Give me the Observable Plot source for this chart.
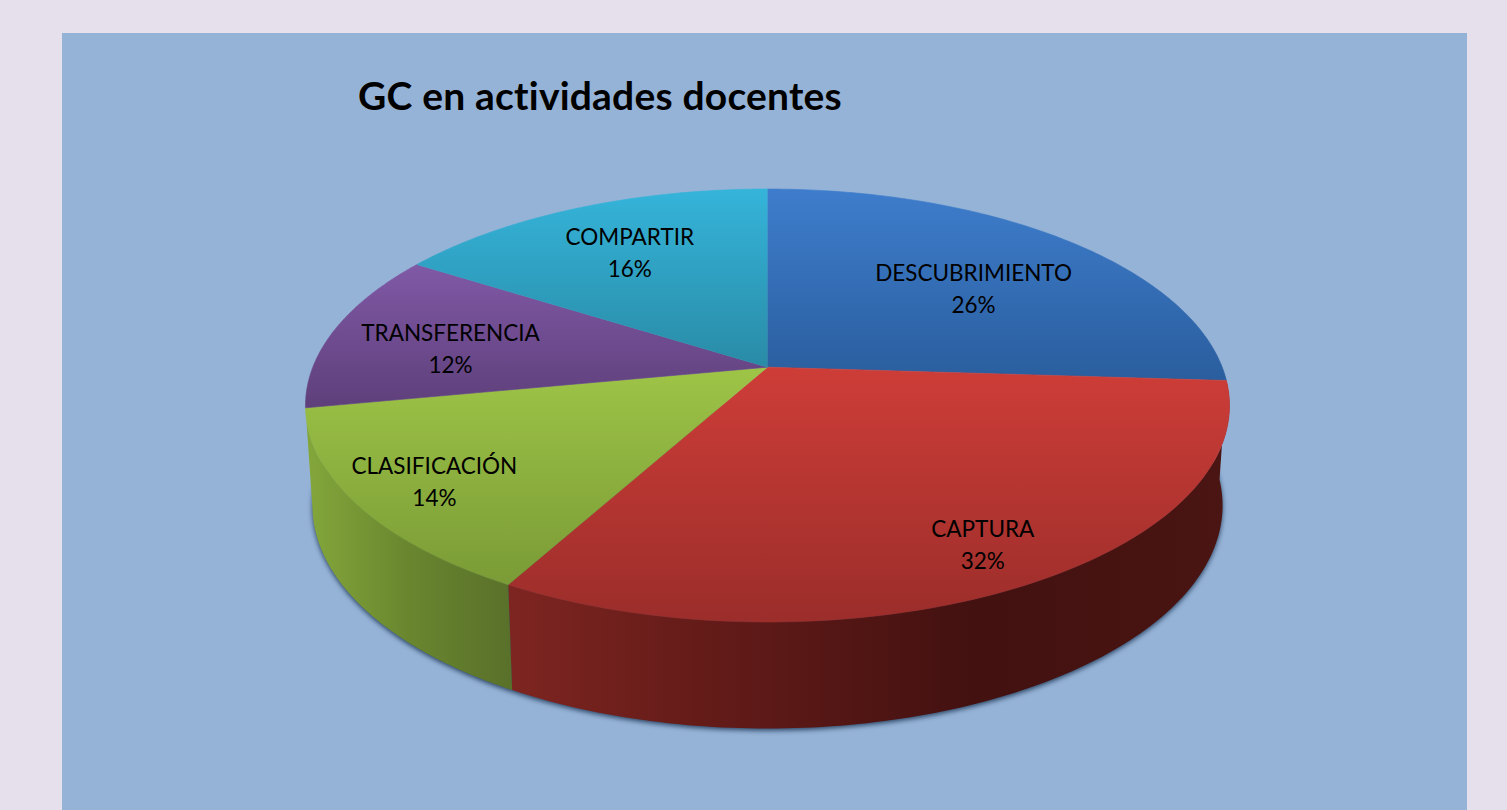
<!DOCTYPE html>
<html lang="es">
<head>
<meta charset="utf-8">
<script src="https://cdn.jsdelivr.net/npm/d3@7"></script>
<script src="https://cdn.jsdelivr.net/npm/@observablehq/plot@0.6"></script>
<style>
  html, body { margin: 0; height: 100%; overflow: hidden; background: #E6E0EC; }
  #panel { position: absolute; left: 62px; top: 33px; width: 1405px; height: 777px; background: #95B3D7; }
  #title { position: absolute; left: 296px; top: 38px; margin: 0; font: 700 39px/48px Lato, sans-serif; font-variant-ligatures: none; letter-spacing: 0.2px; color: #000; white-space: nowrap; }
  #panel svg { position: absolute; left: 0; top: 0; background: transparent; }
</style>
</head>
<body>
<div id="panel"><h1 id="title">GC en actividades docentes</h1><div id="chart"></div></div>
<script>
// Data
const categories = ["DESCUBRIMIENTO", "CAPTURA", "CLASIFICACIÓN", "TRANSFERENCIA", "COMPARTIR"];
const values = [26, 32, 14, 12, 16];
// Label anchors, in pie radii around the centre of the drawn ellipse
const labelX = [0.446, 0.466, -0.721, -0.686, -0.298];
const labelY = [-0.55, 0.633, 0.342, -0.273, -0.715];
// Colours
const topColors = [["#3E7DCC", "#2A5E9E"], ["#CE3D38", "#9B2D2A"], ["#9EC447", "#7A9B36"], ["#8059A6", "#5E3F7A"], ["#35B4DA", "#298BA6"]];
const sideStops = {
  1: [[0, "#7E2521"], [0.25, "#661C19"], [0.65, "#421110"], [1, "#4A1512"]],
  2: [[0, "#84A73B"], [0.5, "#69862F"], [1, "#59702A"]]
};

// Perspective of the tilted disc: eccentricity of the projected centre
const e = 0.177;
const tilt = Math.sqrt(1 - e * e);
const project = (a) => {
  const t = -Math.cos(a), d = 1 - e * t;
  return { x: tilt * Math.sin(a) / d, y: (t - e) / d };
};
const depth = { sx: 0.985, sy: 1.03, dy: 0.462 };
const lower = (p) => ({ x: p.x * depth.sx, y: p.y * depth.sy + depth.dy });

const total = d3.sum(values);
const cum = d3.cumsum(values);
const angle = (v) => (v / total) * 2 * Math.PI;
const arc = (a0, a1) => d3.range(0, 121).map((i) => project(a0 + (a1 - a0) * (i / 120)));

// The true centre of the disc under the projection
const hub = { x: 0, y: -e };
const slices = values.map((v, i) => {
  const rim = arc(angle(cum[i] - v), angle(cum[i]));
  return { i, rim, wedge: [hub, ...rim] };
});

const defs = () => {
  const d = d3.create("svg:defs");
  topColors.forEach((c, i) => {
    const g = d.append("linearGradient").attr("id", `top${i}`).attr("x1", 0).attr("y1", 0).attr("x2", 0).attr("y2", 1);
    g.append("stop").attr("offset", 0).attr("stop-color", c[0]);
    g.append("stop").attr("offset", 1).attr("stop-color", c[1]);
  });
  Object.entries(sideStops).forEach(([i, stops]) => {
    const g = d.append("linearGradient").attr("id", `side${i}`);
    stops.forEach(([o, c]) => g.append("stop").attr("offset", o).attr("stop-color", c));
  });
  return d.node();
};

const line = (data, fill, extra = {}) => Plot.line(data, { x: "x", y: "y", fill, stroke: "none", ...extra });

const front = [1, 2];
const shadowRim = arc(angle(cum[0]) * 0.75, angle(cum[2]) + 0.45).map(lower);

const plot = Plot.plot({
  width: 1405, height: 777,
  margin: 0,
  x: { domain: [-1, 1], range: [243, 1167], axis: null },
  y: { domain: [-1, 1], range: [155.5, 588.5], axis: null },
  style: { background: "transparent", overflow: "visible" },
  marks: [
    defs,
    line(shadowRim, "#2B4463", { dy: 2, imageFilter: "blur(2.5px)" }),
    ...front.map((i) => {
      const s = slices[i];
      return line([...s.rim, ...s.rim.map(lower).reverse()], `url(#side${i})`);
    }),
    ...slices.map((s) => line(s.wedge, `url(#top${s.i})`, { stroke: `url(#top${s.i})`, strokeWidth: 0.6 })),
    Plot.text(categories.map((c, i) => ({ label: `${c}\n${values[i]}%`, x: labelX[i], y: labelY[i] })), {
      x: "x", y: "y", text: "label",
      fontFamily: "Lato, sans-serif", fontSize: 22.5, lineHeight: 1.42, fill: "#000"
    })
  ]
});
document.getElementById("chart").append(plot);
</script>
</body>
</html>
